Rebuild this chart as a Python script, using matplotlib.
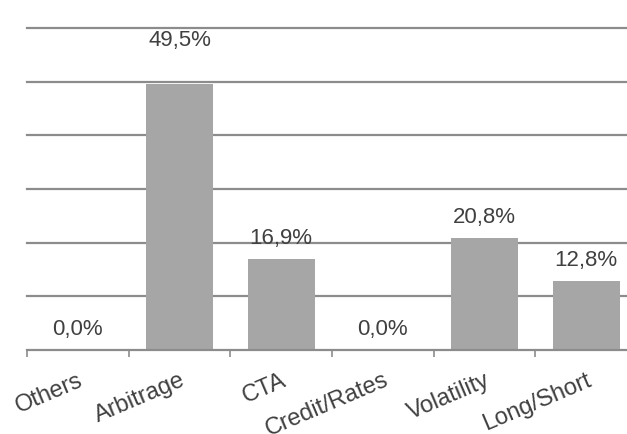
import matplotlib
matplotlib.use("Agg")
import matplotlib.pyplot as plt
import numpy as np

# data
categories = ["Others", "Arbitrage", "CTA", "Credit/Rates", "Volatility", "Long/Short"]
values = [0.0, 49.5, 16.9, 0.0, 20.8, 12.8]
value_labels = ["0,0%", "49,5%", "16,9%", "0,0%", "20,8%", "12,8%"]
grid_values = [10, 20, 30, 40, 50, 60]

bar_color = "#a6a6a6"
line_color = "#8c8c8c"
text_color = "#404040"

plt.rcParams['font.family'] = ['Liberation Sans', 'DejaVu Sans']

fig = plt.figure(figsize=(6.27, 4.34), dpi=100)
# plot area runs slightly past the right edge, as in the reference
ax = fig.add_axes([27 / 627, 84 / 434, 610 / 627, 322 / 434])

x = np.arange(len(categories))
ax.bar(x, values, width=0.66, color=bar_color, zorder=2)

ax.set_xlim(-0.5, len(categories) - 0.5)
ax.set_ylim(0, 60)

# horizontal grid lines
for g in grid_values:
    ln = ax.axhline(g, color=line_color, lw=1.6, zorder=1)
    ln.set_clip_on(False)

for s in ["left", "right", "top"]:
    ax.spines[s].set_visible(False)
ax.spines["bottom"].set_color(line_color)
ax.spines["bottom"].set_linewidth(1.6)

ax.set_yticks([])

# tick marks between categories, labels at the centres
ax.set_xticks(np.arange(len(categories) + 1) - 0.5, minor=True)
ax.tick_params(axis="x", which="minor", length=5, width=1.2, color=line_color, direction="out")
ax.set_xticks(x)
ax.set_xticklabels(categories, rotation=23, ha="right", va="top",
                   rotation_mode="anchor", fontsize=17, color=text_color)
ax.tick_params(axis="x", which="major", length=0, pad=14)

# value labels (first bar label sits higher in the reference)
extra = {1: 16.5}
for i, (v, lab) in enumerate(zip(values, value_labels)):
    ax.annotate(lab, (i, v), xytext=(0, 11 + extra.get(i, 0)), textcoords="offset points",
                ha="center", va="baseline", fontsize=16, color=text_color, zorder=3)

fig.savefig("out.png", dpi=100)
